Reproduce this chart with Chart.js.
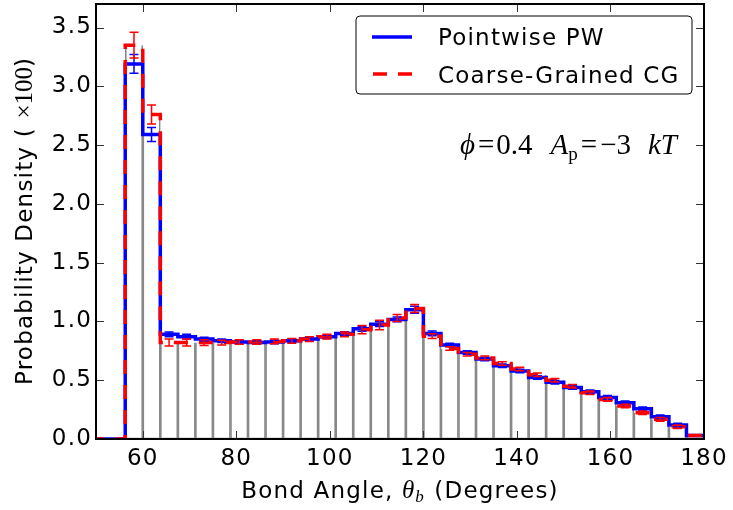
<!DOCTYPE html>
<html>
<head>
<meta charset="utf-8">
<script src="https://cdn.jsdelivr.net/npm/chart.js@4.4.0/dist/chart.umd.min.js"></script>
<style>
  html, body { margin: 0; padding: 0; background: #fff; }
  #wrap { width: 733px; height: 510px; }
</style>
</head>
<body>
<div id="wrap"><canvas id="chart" width="733" height="510"></canvas></div>
<script>
// bond angle histogram, PW vs CG, step lines + error bars over gray bin outlines

const binStarts = [48.75, 52.5, 56.25, 60, 63.75, 67.5, 71.25, 75, 78.75, 82.5, 86.25, 90,
  93.75, 97.5, 101.25, 105, 108.75, 112.5, 116.25, 120, 123.75, 127.5, 131.25, 135,
  138.75, 142.5, 146.25, 150, 153.75, 157.5, 161.25, 165, 168.75, 172.5, 176.25];
const lastEdge = 180;

const pwValues = [0, 0, 3.19, 2.59, 0.89, 0.87, 0.85, 0.835, 0.825, 0.82, 0.826, 0.835,
  0.85, 0.87, 0.898, 0.937, 0.977, 1.017, 1.10, 0.898, 0.80, 0.736, 0.68, 0.623,
  0.578, 0.524, 0.482, 0.439, 0.402, 0.354, 0.309, 0.258, 0.19, 0.119, 0.03];
const cgValues = [0, 0, 3.35, 2.76, 0.82, 0.82, 0.82, 0.82, 0.825, 0.825, 0.83, 0.835,
  0.85, 0.87, 0.89, 0.93, 0.97, 1.03, 1.11, 0.875, 0.77, 0.72, 0.69, 0.643,
  0.595, 0.546, 0.499, 0.448, 0.393, 0.337, 0.28, 0.224, 0.167, 0.105, 0.03];

const pwErrors = [0, 0, 0.08, 0.06, 0.02, 0.02, 0.015, 0.015, 0.015, 0.015, 0.015, 0.015,
  0.015, 0.015, 0.015, 0.02, 0.02, 0.02, 0.03, 0.02, 0.015, 0.015, 0.015, 0.015,
  0.015, 0.015, 0.015, 0.015, 0.015, 0.015, 0.015, 0.015, 0.015, 0.015, 0];
const cgErrors = [0, 0, 0.11, 0.08, 0.03, 0.03, 0.025, 0.02, 0.02, 0.02, 0.02, 0.02,
  0.02, 0.02, 0.02, 0.035, 0.04, 0.03, 0.035, 0.02, 0.015, 0.015, 0.015, 0.015,
  0.015, 0.015, 0.015, 0.015, 0.015, 0.015, 0.015, 0.015, 0.015, 0.015, 0];

const xTicks = [60, 80, 100, 120, 140, 160, 180];
const yTicks = [0, 0.5, 1, 1.5, 2, 2.5, 3, 3.5];

const BIN_HALF = (binStarts[1] - binStarts[0]) / 2;
const SANS = "'DejaVu Sans', sans-serif";
const SERIF = "'Liberation Serif', 'DejaVu Serif', serif";
const SPACING = "1.2px"; // old matplotlib agg text runs a bit wide

// draws a row of text pieces with different fonts (gap = extra space after a piece)
function drawRuns(ctx, runs, x, y, align) {
  let total = 0;
  runs.forEach((r) => {
    ctx.font = r.font;
    ctx.letterSpacing = r.ls || "0px";
    r.w = ctx.measureText(r.text).width + (r.gap || 0);
    total += r.w;
  });
  let cx = align === "center" ? x - total / 2 : align === "right" ? x - total : x;
  runs.forEach((r) => {
    ctx.font = r.font;
    ctx.letterSpacing = r.ls || "0px";
    ctx.fillText(r.text, cx, y + (r.dy || 0));
    cx += r.w;
  });
  ctx.letterSpacing = "0px";
}

function stepPoints(values) {
  const pts = binStarts.map((x, i) => ({ x, y: values[i] }));
  pts.push({ x: lastEdge, y: values[values.length - 1] });
  return pts;
}

const decorPlugin = {
  id: "decor",
  beforeDraw(chart) {
    chart.ctx.letterSpacing = SPACING; // used by the tick labels
  },
  afterDraw(chart) {
    const ctx = chart.ctx;
    ctx.letterSpacing = "0px";
    const xs = chart.scales.x;
    const ys = chart.scales.y;
    const { left, right, top, bottom } = chart.chartArea;

    // error bars
    const drawErr = (values, errs, color) => {
      ctx.save();
      ctx.strokeStyle = color;
      ctx.lineWidth = 1.5;
      binStarts.forEach((b, i) => {
        if (!errs[i]) return;
        const px = xs.getPixelForValue(b + BIN_HALF);
        const y1 = ys.getPixelForValue(values[i] + errs[i]);
        const y2 = ys.getPixelForValue(values[i] - errs[i]);
        ctx.beginPath();
        ctx.moveTo(px, y1); ctx.lineTo(px, y2);
        ctx.moveTo(px - 4.5, y1); ctx.lineTo(px + 4.5, y1);
        ctx.moveTo(px - 4.5, y2); ctx.lineTo(px + 4.5, y2);
        ctx.stroke();
      });
      ctx.restore();
    };
    drawErr(pwValues, pwErrors, "#0000ff");
    drawErr(cgValues, cgErrors, "#ff0000");

    // inward ticks on all four sides
    ctx.save();
    ctx.strokeStyle = "#333";
    ctx.lineWidth = 1;
    ctx.beginPath();
    xTicks.forEach((v) => {
      const px = Math.round(xs.getPixelForValue(v)) + 0.5;
      ctx.moveTo(px, bottom); ctx.lineTo(px, bottom - 8);
      ctx.moveTo(px, top); ctx.lineTo(px, top + 8);
    });
    yTicks.forEach((v) => {
      const py = Math.round(ys.getPixelForValue(v)) + 0.5;
      ctx.moveTo(left, py); ctx.lineTo(left + 8, py);
      ctx.moveTo(right, py); ctx.lineTo(right - 8, py);
    });
    ctx.stroke();

    // frame
    ctx.strokeStyle = "#000";
    ctx.lineWidth = 2;
    ctx.strokeRect(left, top, right - left, bottom - top);
    ctx.restore();

    // legend
    ctx.save();
    const lx = 356, ly = 16, lw = 336, lh = 78;
    ctx.beginPath();
    ctx.roundRect(lx, ly, lw, lh, 4);
    ctx.fillStyle = "#fff";
    ctx.fill();
    ctx.strokeStyle = "#000";
    ctx.lineWidth = 1;
    ctx.stroke();
    const pw = chart.data.datasets[1];
    const cg = chart.data.datasets[0];
    ctx.lineWidth = 3.5;
    ctx.strokeStyle = pw.borderColor;
    ctx.beginPath(); ctx.moveTo(372, 37); ctx.lineTo(412, 37); ctx.stroke();
    ctx.strokeStyle = cg.borderColor;
    ctx.setLineDash([14, 11]);
    ctx.beginPath(); ctx.moveTo(373, 74); ctx.lineTo(412, 74); ctx.stroke();
    ctx.setLineDash([]);
    ctx.fillStyle = "#000";
    ctx.textBaseline = "alphabetic";
    ctx.font = "23px " + SANS;
    ctx.letterSpacing = SPACING;
    ctx.fillText(pw.label, 438, 45);
    ctx.fillText(cg.label, 438, 83);
    ctx.letterSpacing = "0px";
    ctx.restore();

    // annotation
    ctx.save();
    ctx.fillStyle = "#000";
    ctx.textBaseline = "alphabetic";
    const it = "italic 29px " + SERIF, rm = "29px " + SERIF, sub = "19px " + SERIF;
    drawRuns(ctx, [
      { text: "\u03d5", font: it, gap: 3 },
      { text: "=", font: rm, gap: 2 },
      { text: "0.4", font: rm, gap: 18 },
      { text: "A", font: it },
      { text: "p", font: sub, dy: 6, gap: 3 },
      { text: "=", font: rm, gap: 3 },
      { text: "\u22123", font: rm, gap: 17 },
      { text: "kT", font: it },
    ], 677, 154, "right");
    ctx.restore();

    // axis titles
    ctx.save();
    ctx.fillStyle = "#000";
    ctx.textBaseline = "alphabetic";
    drawRuns(ctx, [
      { text: "Bond Angle, ", font: "23px " + SANS, ls: SPACING },
      { text: "\u03b8", font: "italic 25px " + SERIF, gap: 1 },
      { text: "b", font: "italic 17px " + SERIF, dy: 4, gap: 2 },
      { text: " (Degrees)", font: "23px " + SANS, ls: SPACING },
    ], (left + right) / 2, 498, "center");
    ctx.translate(32, (top + bottom) / 2);
    ctx.rotate(-Math.PI / 2);
    drawRuns(ctx, [
      { text: "Probability Density ( ", font: "23px " + SANS, ls: SPACING },
      { text: "\u00d7100", font: "25px " + SERIF },
      { text: ")", font: "23px " + SANS },
    ], 0, 0, "center");
    ctx.restore();
  },
};

const tickFont = { family: SANS, size: 23 };

new Chart(document.getElementById("chart"), {
  type: "line",
  data: {
    datasets: [
      {
        label: "Coarse-Grained CG",
        data: stepPoints(cgValues),
        borderColor: "#ff0000",
        borderWidth: 3.5,
        borderDash: [14, 11],
        stepped: "before",
        pointRadius: 0,
        fill: false,
        order: 0,
      },
      {
        label: "Pointwise PW",
        data: stepPoints(pwValues),
        borderColor: "#0000ff",
        borderWidth: 3.5,
        stepped: "before",
        pointRadius: 0,
        fill: false,
        order: 1,
      },
      {
        type: "bar",
        label: "bins",
        data: binStarts.map((b, i) => ({ x: b + BIN_HALF, y: cgValues[i] })),
        backgroundColor: "rgba(0,0,0,0)",
        borderColor: "#888888",
        borderWidth: 1,
        borderSkipped: "top",
        barPercentage: 1,
        categoryPercentage: 1,
        grouped: false,
        order: 2,
      },
    ],
  },
  options: {
    responsive: false,
    animation: false,
    layout: { padding: { top: 4, right: 29, left: 0, bottom: 0 } },
    plugins: { legend: { display: false }, tooltip: { enabled: false } },
    scales: {
      x: {
        type: "linear",
        min: 50,
        max: 180,
        offset: false,
        afterBuildTicks: (s) => { s.ticks = xTicks.map((v) => ({ value: v })); },
        afterFit: (s) => { s.height = 71; s.paddingLeft = 0; s.paddingRight = 0; },
        grid: { display: false, drawTicks: false },
        border: { display: false },
        ticks: { font: tickFont, color: "#000", padding: 6, maxRotation: 0, autoSkip: false,
          callback: (v) => String(v) },
      },
      y: {
        min: 0,
        max: 3.7,
        afterBuildTicks: (s) => { s.ticks = yTicks.map((v) => ({ value: v })); },
        afterFit: (s) => { s.width = 96; s.paddingTop = 0; s.paddingBottom = 0; },
        grid: { display: false, drawTicks: false },
        border: { display: false },
        ticks: { font: tickFont, color: "#000", padding: 4, autoSkip: false,
          callback: (v) => Number(v).toFixed(1) },
      },
    },
  },
  plugins: [decorPlugin],
});
</script>
</body>
</html>
